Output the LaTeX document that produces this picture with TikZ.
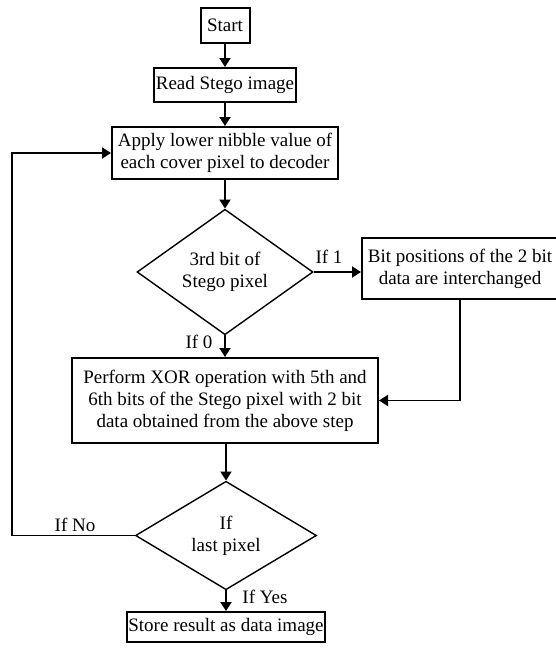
\documentclass[tikz,border=0pt]{standalone}
\usepackage{fontspec}
\setmainfont{Liberation Serif}
\usetikzlibrary{shapes.geometric,arrows.meta}
\begin{document}
\begin{tikzpicture}[x=1pt,y=-1pt,
  every node/.style={font=\fontsize{19}{22}\selectfont},
  procbox/.style={draw,line width=2pt,rectangle,inner sep=0pt,align=center},
  decbox/.style={draw,line width=1.4pt,diamond,inner sep=0pt,align=center},
  conn/.style={line width=1.9pt,-{Triangle[length=9pt,width=11pt]}},
  lbl/.style={inner sep=0pt}]
\useasboundingbox (0,0) rectangle (555,648);
\node[procbox,minimum width=49pt,minimum height=35pt] (start) at (225,25.5) {Start};
\node[procbox,minimum width=142pt,minimum height=34pt] (read) at (225,85) {Read Stego image};
\node[procbox,minimum width=226pt,minimum height=52pt] (apply) at (225,153) {Apply lower nibble value of\\each cover pixel to decoder};
\node[decbox,minimum width=176pt,minimum height=103pt] (d1) at (225,272) {3rd bit of\\Stego pixel};
\node[procbox,minimum width=196pt,minimum height=61pt] (bit) at (460,268.5) {Bit positions of the 2 bit\\data are interchanged};
\node[procbox,minimum width=306pt,minimum height=85pt] (xor) at (225,400.5) {Perform XOR operation with 5th and\\6th bits of the Stego pixel with 2 bit\\data obtained from the above step};
\node[decbox,minimum width=181pt,minimum height=85pt] (d2) at (226,535.5) {If\\last pixel};
\node[procbox,minimum width=198pt,minimum height=30pt] (store) at (226,627) {Store result as data image};
\coordinate (loop) at (12,535.5);
\draw[conn] (start) -- (read);
\draw[conn] (read) -- (apply);
\draw[conn] (apply) -- (d1);
\draw[conn] (d1.east) -- (d1.east -| bit.west);
\draw[conn] (d1.south) -- (xor.north -| d1.south);
\draw[conn] (bit.south) |- (xor.east);
\draw[conn] (xor.south -| d2.north) -- (d2.north);
\draw[conn] (d2.south) -- (store.north);
\draw[conn] (d2.west) -- (loop) |- (apply.west);
\node[lbl] (l1) at (329,257) {If 1};
\node[lbl] (l0) at (199,342) {If 0};
\node[lbl] (lno) at (75,525) {If No};
\node[lbl] (lyes) at (265,597) {If Yes};
\end{tikzpicture}
\end{document}
